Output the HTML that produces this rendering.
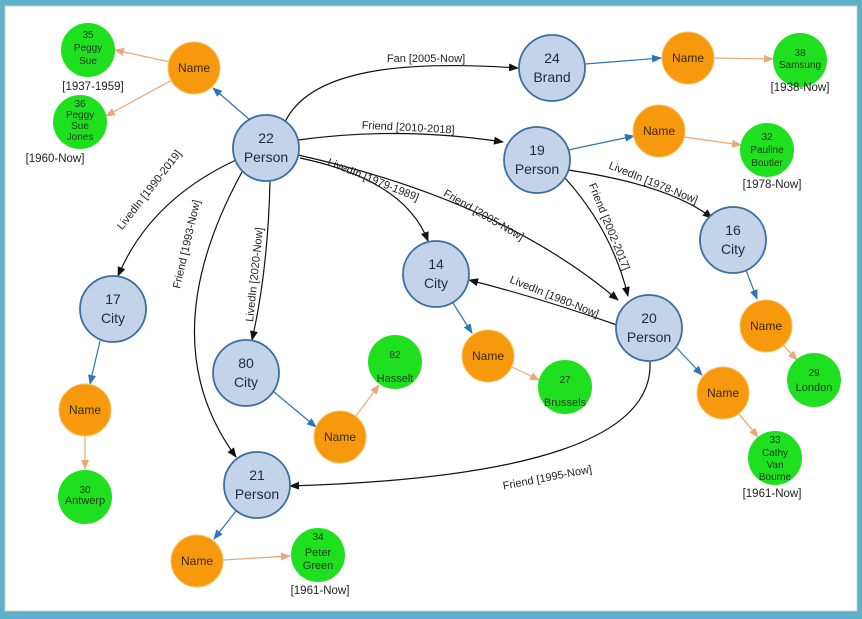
<!DOCTYPE html>
<html><head><meta charset="utf-8"><style>
html,body{margin:0;padding:0;background:#5fb0c8;}
svg{display:block;font-family:"Liberation Sans",sans-serif;}
</style></head><body>
<svg width="862" height="619" viewBox="0 0 862 619" xmlns="http://www.w3.org/2000/svg">
<defs>
<marker id="k" markerWidth="10" markerHeight="8" refX="9" refY="4" orient="auto" markerUnits="userSpaceOnUse"><path d="M0,0 L10,4 L0,8 z" fill="#111"/></marker>
<marker id="b" markerWidth="10" markerHeight="8" refX="9" refY="4" orient="auto" markerUnits="userSpaceOnUse"><path d="M0,0 L10,4 L0,8 z" fill="#2e75b6"/></marker>
<marker id="o" markerWidth="10" markerHeight="8" refX="9" refY="4" orient="auto" markerUnits="userSpaceOnUse"><path d="M0,0 L10,4 L0,8 z" fill="#e8a878"/></marker>
</defs>
<rect x="5" y="6" width="852" height="605" fill="#fff" stroke="#ccc"/>
<g fill="none" stroke="#111" stroke-width="1.2" marker-end="url(#k)">
<path d="M285,122 C310,70 400,60 518,68"/>
<path d="M298,140 Q400,126 503,142"/>
<path d="M300,158 Q405,180 428,241"/>
<path d="M298,155 Q500,200 618,300"/>
<path d="M236,160 Q150,200 118,276"/>
<path d="M270,181 Q268,270 252,340"/>
<path d="M242,172 Q150,340 236,457"/>
<path d="M568,170 Q670,185 712,218"/>
<path d="M565,178 Q612,230 628,296"/>
<path d="M617,325 Q540,298 469,280"/>
<path d="M650,362 Q655,475 290,486"/>
</g>
<g stroke="#2e75b6" stroke-width="1.2" marker-end="url(#b)">
<line x1="250" y1="120" x2="213" y2="88"/>
<line x1="585" y1="64" x2="661" y2="58"/>
<line x1="568" y1="150" x2="634" y2="136"/>
<line x1="746" y1="270" x2="757" y2="299"/>
<line x1="453" y1="303" x2="472" y2="333"/>
<line x1="675" y1="346" x2="702" y2="375"/>
<line x1="100" y1="341" x2="90" y2="384"/>
<line x1="274" y1="392" x2="316" y2="427"/>
<line x1="236" y1="511" x2="214" y2="539"/>
</g>
<g stroke="#e8a878" stroke-width="1.2" marker-end="url(#o)">
<line x1="170" y1="62" x2="115" y2="50"/>
<line x1="172" y1="80" x2="106" y2="116"/>
<line x1="714" y1="58" x2="773" y2="59"/>
<line x1="684" y1="137" x2="741" y2="145"/>
<line x1="783" y1="345" x2="797" y2="360"/>
<line x1="512" y1="367" x2="539" y2="380"/>
<line x1="739" y1="414" x2="758" y2="437"/>
<line x1="85" y1="436" x2="85" y2="469"/>
<line x1="356" y1="416" x2="379" y2="385"/>
<line x1="223" y1="560" x2="290" y2="556"/>
</g>
<g font-size="11" fill="#222" text-anchor="middle">
<text x="426" y="62">Fan [2005-Now]</text>
<text x="408" y="131" transform="rotate(3 408 131)">Friend [2010-2018]</text>
<text x="372" y="183" transform="rotate(22 372 183)">LivedIn [1979-1989]</text>
<text x="482" y="218" transform="rotate(30 482 218)">Friend [2005-Now]</text>
<text x="152" y="192" transform="rotate(-52 152 192)">LivedIn [1990-2019]</text>
<text x="258" y="275" transform="rotate(-84 258 275)">LivedIn [2020-Now]</text>
<text x="190" y="245" transform="rotate(-77 190 245)">Friend [1993-Now]</text>
<text x="652" y="186" transform="rotate(22 652 186)">LivedIn [1978-Now]</text>
<text x="606" y="228" transform="rotate(68 606 228)">Friend [2002-2017]</text>
<text x="553" y="300" transform="rotate(22 553 300)">LivedIn [1980-Now]</text>
<text x="548" y="481" transform="rotate(-11 548 481)">Friend [1995-Now]</text>
</g>
<g stroke="#3a6fa0" stroke-width="1.8" fill="#c2d3ea">
<circle cx="266" cy="148" r="33"/><circle cx="552" cy="68" r="33"/>
<circle cx="537" cy="160" r="33"/><circle cx="733" cy="240" r="33"/>
<circle cx="436" cy="274" r="33"/><circle cx="649" cy="328" r="33"/>
<circle cx="113" cy="309" r="33"/><circle cx="246" cy="373" r="33"/>
<circle cx="257" cy="485" r="33"/>
</g>
<g fill="#f7990c" stroke="#fbc36a" stroke-width="1">
<circle cx="194" cy="68" r="26"/><circle cx="688" cy="58" r="26"/>
<circle cx="659" cy="131" r="26"/><circle cx="766" cy="326" r="26"/>
<circle cx="488" cy="356" r="26"/><circle cx="723" cy="393" r="26"/>
<circle cx="85" cy="410" r="26"/><circle cx="340" cy="437" r="26"/>
<circle cx="197" cy="561" r="26"/>
</g>
<g fill="#1fe01f">
<circle cx="88" cy="50" r="27"/><circle cx="80" cy="122" r="27"/>
<circle cx="800" cy="60" r="27"/><circle cx="767" cy="150" r="27"/>
<circle cx="814" cy="380" r="27"/><circle cx="565" cy="387" r="27"/>
<circle cx="775" cy="458" r="27"/><circle cx="85" cy="497" r="27"/>
<circle cx="395" cy="362" r="27"/><circle cx="318" cy="555" r="27"/>
</g>
<g font-size="14" fill="#1a2a40" text-anchor="middle">
<text x="266" y="143">22</text><text x="266" y="162">Person</text>
<text x="552" y="63">24</text><text x="552" y="82">Brand</text>
<text x="537" y="155">19</text><text x="537" y="174">Person</text>
<text x="733" y="235">16</text><text x="733" y="254">City</text>
<text x="436" y="269">14</text><text x="436" y="288">City</text>
<text x="649" y="323">20</text><text x="649" y="342">Person</text>
<text x="113" y="304">17</text><text x="113" y="323">City</text>
<text x="246" y="368">80</text><text x="246" y="387">City</text>
<text x="257" y="480">21</text><text x="257" y="499">Person</text>
</g>
<g font-size="12" fill="#3a2a10" text-anchor="middle">
<text x="194" y="72">Name</text><text x="688" y="62">Name</text>
<text x="659" y="135">Name</text><text x="766" y="330">Name</text>
<text x="488" y="360">Name</text><text x="723" y="397">Name</text>
<text x="85" y="414">Name</text><text x="340" y="441">Name</text>
<text x="197" y="565">Name</text>
</g>
<g font-size="10" fill="#1a3a1a" text-anchor="middle">
<text x="88" y="38">35</text><text x="88" y="51">Peggy</text><text x="88" y="64">Sue</text>
<text x="80" y="107">36</text><text x="80" y="118">Peggy</text><text x="80" y="129">Sue</text><text x="80" y="140">Jones</text>
<text x="800" y="56">38</text><text x="800" y="68">Samsung</text>
<text x="767" y="140">32</text><text x="767" y="153">Pauline</text><text x="767" y="166">Boutler</text>
<text x="814" y="376">29</text><text x="814" y="391" font-size="11">London</text>
<text x="565" y="383">27</text><text x="565" y="406" font-size="11">Brussels</text>
<text x="775" y="443">33</text><text x="775" y="456">Cathy</text><text x="775" y="468">Van</text><text x="775" y="480">Bourne</text>
<text x="85" y="493">30</text><text x="85" y="504" font-size="11">Antwerp</text>
<text x="395" y="358">82</text><text x="395" y="382" font-size="11">Hasselt</text>
<text x="318" y="540">34</text><text x="318" y="556" font-size="11">Peter</text><text x="318" y="569" font-size="11">Green</text>
</g>
<g font-size="11.5" fill="#222" text-anchor="middle">
<text x="93" y="90">[1937-1959]</text>
<text x="55" y="162">[1960-Now]</text>
<text x="800" y="91">[1938-Now]</text>
<text x="772" y="188">[1978-Now]</text>
<text x="772" y="497">[1961-Now]</text>
<text x="320" y="594">[1961-Now]</text>
</g>
</svg>
</body></html>
